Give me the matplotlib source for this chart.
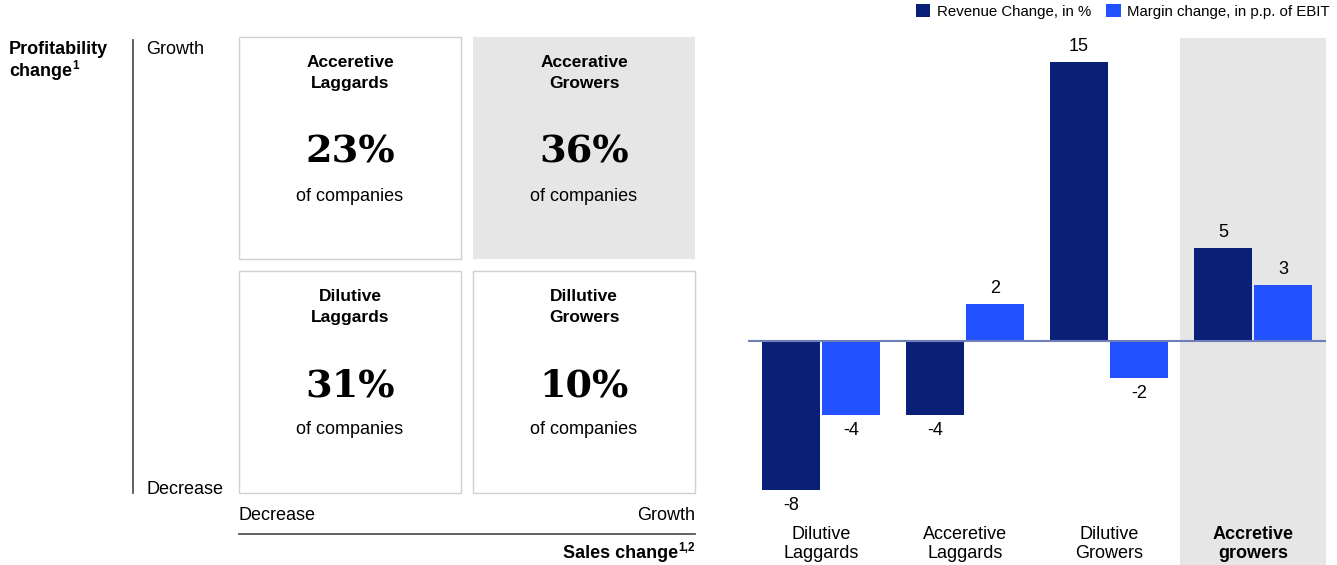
import matplotlib
matplotlib.use("Agg")
import matplotlib.pyplot as plt
from matplotlib.patches import Rectangle
import numpy as np

plt.rcParams['font.family'] = ['Liberation Sans', 'DejaVu Sans']

# quadrant data
quad_titles = ["Acceretive\nLaggards", "Accerative\nGrowers", "Dilutive\nLaggards", "Dillutive\nGrowers"]
quad_share = [23, 36, 31, 10]
quad_highlight = [False, True, False, False]

# bar chart data
groups = ["Dilutive\nLaggards", "Acceretive\nLaggards", "Dilutive\nGrowers", "Accretive\ngrowers"]
revenue_change = [-8, -4, 15, 5]
margin_change = [-4, 2, -2, 3]
series_names = ["Revenue Change, in %", "Margin change, in p.p. of EBIT"]

W, H = 1337, 565
DARK = "#0a1f78"
LIGHT = "#2251ff"
GREY_BG = "#e6e6e6"
LINE = "#555555"

fig = plt.figure(figsize=(W / 100, H / 100), dpi=100)


def fx(x):
    return x / W


def fy(y):
    return 1 - y / H


# ---- left: 2x2 matrix ----
fig.text(fx(9), fy(49), "Profitability", fontsize=13, fontweight='bold', va='center')
t_ch = fig.text(fx(9), fy(71), "change", fontsize=13, fontweight='bold', va='center')
fig.add_artist(plt.Line2D([fx(133), fx(133)], [fy(40), fy(493)], color=LINE, lw=1.3))
fig.text(fx(146), fy(49), "Growth", fontsize=13, va='center')
fig.text(fx(146), fy(489), "Decrease", fontsize=13, va='center')

box_x = [239, 473]
box_y = [37, 271]
bw, bh = 222, 222
for i, (title, share) in enumerate(zip(quad_titles, quad_share)):
    x0 = box_x[i % 2]
    y0 = box_y[i // 2]
    if quad_highlight[i]:
        rect = Rectangle((fx(x0), fy(y0 + bh)), bw / W, bh / H, transform=fig.transFigure,
                         facecolor=GREY_BG, edgecolor='none')
    else:
        rect = Rectangle((fx(x0), fy(y0 + bh)), bw / W, bh / H, transform=fig.transFigure,
                         facecolor='white', edgecolor='#d0d0d0', lw=1)
    fig.add_artist(rect)
    cx = x0 + bw / 2
    fig.text(fx(cx), fy(y0 + 36), title, fontsize=12.5, fontweight='bold',
             ha='center', va='center', linespacing=1.5)
    fig.text(fx(cx), fy(y0 + 115), f"{share}%", fontsize=27.5, fontweight='bold',
             family='DejaVu Serif', ha='center', va='center')
    fig.text(fx(cx), fy(y0 + 159), "of companies", fontsize=13, ha='center', va='center')

fig.text(fx(239), fy(515), "Decrease", fontsize=13, va='center')
fig.text(fx(695), fy(515), "Growth", fontsize=13, va='center', ha='right')
fig.add_artist(plt.Line2D([fx(239), fx(695)], [fy(534), fy(534)], color=LINE, lw=1.3))
t_sup = fig.text(fx(695), fy(548), "1,2", fontsize=8.5, fontweight='bold', va='center', ha='right')

# ---- right: bar chart ----
ax = fig.add_axes([fx(748), fy(565), (1326 - 748) / W, (565 - 38) / H])
ppu = 18.6
ax.set_ylim(-(565 - 341) / ppu, (341 - 38) / ppu)
ax.set_xlim(-(821 - 748) / 144, (1326 - 821) / 144)
x = np.arange(len(groups))
bwid = 0.405
ax.axvspan(2.493, 3.6, color=GREY_BG, zorder=0, lw=0)
b1 = ax.bar(x - bwid / 2 - 0.006, revenue_change, bwid, color=DARK, zorder=2, label=series_names[0])
b2 = ax.bar(x + bwid / 2 + 0.006, margin_change, bwid, color=LIGHT, zorder=2, label=series_names[1])
ax.axhline(0, color="#6f7db8", lw=1.5, zorder=3)
for bars, vals in ((b1, revenue_change), (b2, margin_change)):
    for rect, v in zip(bars, vals):
        xc = rect.get_x() + rect.get_width() / 2
        ax.annotate(f"{v}", (xc, v), xytext=(0, 11 if v > 0 else -11), textcoords='offset points',
                    ha='center', va='center', fontsize=13)
for i, g in enumerate(groups):
    ax.text(i, (565 - 544) / (565 - 38), g, transform=ax.get_xaxis_transform(),
            ha='center', va='center', fontsize=13, linespacing=1.15,
            fontweight='bold' if i == 3 else 'normal')
for s in ax.spines.values():
    s.set_visible(False)
ax.set_xticks([])
ax.set_yticks([])

fig.legend(handles=[b1, b2], loc='upper right', bbox_to_anchor=(fx(1330), fy(4)), ncol=2,
           frameon=False, fontsize=10.8, handlelength=0.95, handleheight=0.95,
           handletextpad=0.45, columnspacing=1.0, borderaxespad=0, borderpad=0)

# superscripts placed after measuring text
fig.canvas.draw()
r = fig.canvas.get_renderer()
bb = t_ch.get_window_extent(r)
fig.text(bb.x1 / W + 0.0005, fy(66), "1", fontsize=8.5, fontweight='bold', va='center')
bb2 = t_sup.get_window_extent(r)
fig.text(bb2.x0 / W - 0.0005, fy(553), "Sales change", fontsize=13, fontweight='bold',
         va='center', ha='right')

fig.savefig("out.png", dpi=100)
